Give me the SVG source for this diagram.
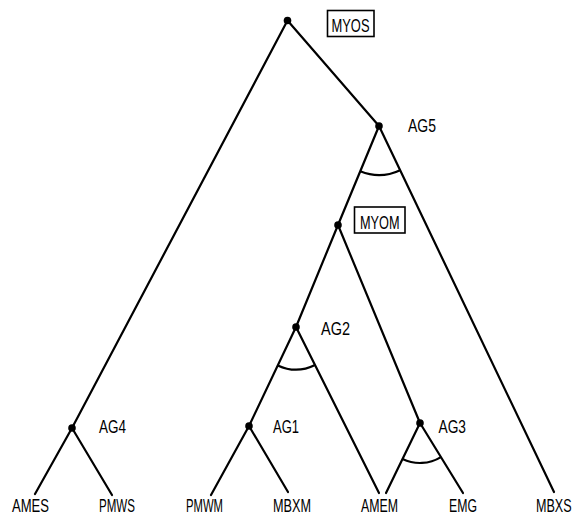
<svg xmlns="http://www.w3.org/2000/svg" width="576" height="516" viewBox="0 0 576 516">
<style>
.e{fill:none;stroke:#000;stroke-width:2.2;stroke-linecap:round;stroke-linejoin:round}
.a{fill:none;stroke:#000;stroke-width:2.2}
.d{fill:#000}
.t{font-family:"Liberation Sans",Arial,sans-serif;font-size:18px;fill:#000}
.b{fill:none;stroke:#000;stroke-width:1.6}
</style>
<rect width="576" height="516" fill="#fff"/>
<g id="connectors">
<polyline class="e" points="287.5,20.5 72,428 35,494"/>
<line class="e" x1="72" y1="428" x2="112" y2="495"/>
<line class="e" x1="287.5" y1="20.5" x2="379" y2="126"/>
<line class="e" x1="379" y1="126" x2="554" y2="492"/>
<polyline class="e" points="379,126 338,225 296,327 249,426 211,495"/>
<line class="e" x1="296" y1="327" x2="379" y2="493"/>
<line class="e" x1="249" y1="426" x2="288" y2="492"/>
<line class="e" x1="338" y1="225" x2="420" y2="423"/>
<line class="e" x1="420" y1="423" x2="386" y2="493"/>
<line class="e" x1="420" y1="423" x2="463" y2="493"/>
</g>
<g id="MYOS">
<circle class="d" cx="287.5" cy="20.5" r="3.8"/>
<rect class="b" x="327.5" y="10.5" width="46.5" height="26"/>
<text class="t" x="331.5" y="32" textLength="38" lengthAdjust="spacingAndGlyphs">MYOS</text>
</g>
<g id="AG5">
<circle class="d" cx="379" cy="126" r="3.8"/>
<path class="a" d="M360.3,171.3 A49,49 0 0 0 400.1,170.2"/>
<text class="t" x="408" y="131.5" textLength="28" lengthAdjust="spacingAndGlyphs">AG5</text>
</g>
<g id="MYOM">
<circle class="d" cx="338" cy="225" r="3.8"/>
<rect class="b" x="354.5" y="207" width="50.5" height="26"/>
<text class="t" x="360" y="228.5" textLength="39.5" lengthAdjust="spacingAndGlyphs">MYOM</text>
</g>
<g id="AG2">
<circle class="d" cx="296" cy="327" r="3.8"/>
<path class="a" d="M277.8,365.4 A42.5,42.5 0 0 0 315,365"/>
<text class="t" x="321" y="335" textLength="29" lengthAdjust="spacingAndGlyphs">AG2</text>
</g>
<g id="AG4">
<circle class="d" cx="72" cy="428" r="3.8"/>
<text class="t" x="99" y="433" textLength="27" lengthAdjust="spacingAndGlyphs">AG4</text>
</g>
<g id="AG1">
<circle class="d" cx="249" cy="426" r="3.8"/>
<text class="t" x="273" y="433" textLength="26" lengthAdjust="spacingAndGlyphs">AG1</text>
</g>
<g id="AG3">
<circle class="d" cx="420" cy="423" r="3.8"/>
<path class="a" d="M402.5,459 A40,40 0 0 0 440.9,457.1"/>
<text class="t" x="438.5" y="432.5" textLength="27.5" lengthAdjust="spacingAndGlyphs">AG3</text>
</g>
<g id="AMES"><text class="t" x="12" y="511.5" textLength="37" lengthAdjust="spacingAndGlyphs">AMES</text></g>
<g id="PMWS"><text class="t" x="99" y="511.5" textLength="36" lengthAdjust="spacingAndGlyphs">PMWS</text></g>
<g id="PMWM"><text class="t" x="186" y="511.5" textLength="37" lengthAdjust="spacingAndGlyphs">PMWM</text></g>
<g id="MBXM"><text class="t" x="273" y="511.5" textLength="38" lengthAdjust="spacingAndGlyphs">MBXM</text></g>
<g id="AMEM"><text class="t" x="361" y="511.5" textLength="37" lengthAdjust="spacingAndGlyphs">AMEM</text></g>
<g id="EMG"><text class="t" x="449" y="511.5" textLength="28" lengthAdjust="spacingAndGlyphs">EMG</text></g>
<g id="MBXS"><text class="t" transform="translate(536,511.5) scale(0.7,1)" x="0" y="0">MBXS</text></g>
</svg>
